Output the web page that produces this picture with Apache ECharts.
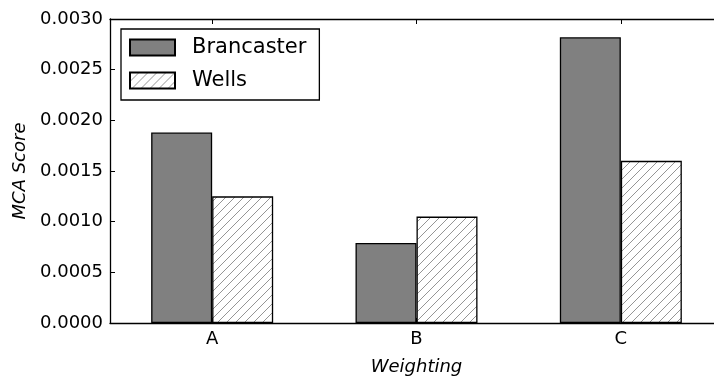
<!DOCTYPE html>
<html>
<head>
<meta charset="utf-8">
<script src="https://cdn.jsdelivr.net/npm/echarts@6/dist/echarts.min.js"></script>
<style>
  html, body { margin: 0; padding: 0; background: #fff; overflow: hidden; }
  #wrap { width: 714px; height: 381px; overflow: hidden; }
  /* The plot runs slightly past the right edge of the view, so the canvas is wider */
  #chart { width: 723px; height: 381px; }
</style>
</head>
<body>
<div id="wrap"><div id="chart"></div></div>
<script>
// Weighting schemes on the x axis
const categories = ['A', 'B', 'C'];
// MCA scores per site
const brancaster = [0.00188, 0.00079, 0.00282];
const wells = [0.00125, 0.00105, 0.00160];
// Y tick values
const yTicks = [0, 0.0005, 0.0010, 0.0015, 0.0020, 0.0025, 0.0030];

// Diagonal hatch tile for the Wells bars
function makeHatch() {
  const s = 9;
  const c = document.createElement('canvas');
  c.width = s; c.height = s;
  const g = c.getContext('2d');
  g.fillStyle = '#ffffff';
  g.fillRect(0, 0, s, s);
  g.strokeStyle = '#7a7a7a';
  g.lineWidth = 0.8;
  for (const off of [-s, 0, s]) {
    g.beginPath();
    g.moveTo(off - 1, s + 1);
    g.lineTo(off + s + 1, -1);
    g.stroke();
  }
  return c;
}
const hatch = { image: makeHatch(), repeat: 'repeat' };

const font = 'DejaVu Sans';
const chart = echarts.init(document.getElementById('chart'), null, { renderer: 'canvas' });

chart.setOption({
  animation: false,
  backgroundColor: '#ffffff',
  textStyle: { fontFamily: font },
  grid: { left: 110, right: 0, top: 19, bottom: 56, containLabel: false },
  legend: {
    orient: 'vertical',
    left: 121,
    top: 29,
    padding: [8, 13, 9, 8],
    itemGap: 12,
    itemWidth: 45,
    itemHeight: 16,
    backgroundColor: '#ffffff',
    borderColor: '#000',
    borderWidth: 1.3,
    borderRadius: 0,
    selectedMode: false,
    textStyle: { fontFamily: font, fontSize: 21, color: '#000', padding: [0, 0, 0, 12] },
    data: [
      { name: 'Brancaster', icon: 'rect' },
      { name: 'Wells', icon: 'rect' }
    ]
  },
  xAxis: [
    {
      type: 'category',
      data: categories,
      position: 'bottom',
      name: 'Weighting',
      nameLocation: 'middle',
      nameGap: 35,
      nameTextStyle: { fontFamily: font, fontSize: 18, fontStyle: 'italic', color: '#000' },
      axisLine: { lineStyle: { color: '#000', width: 1.3 } },
      axisTick: { show: true, inside: true, alignWithLabel: true, length: 5, lineStyle: { color: '#000' } },
      axisLabel: { fontFamily: font, fontSize: 18, color: '#000', margin: 7 },
      splitLine: { show: false }
    },
    {
      type: 'category',
      data: categories,
      position: 'top',
      axisLine: { lineStyle: { color: '#000', width: 1.3 } },
      axisTick: { show: true, inside: true, alignWithLabel: true, length: 5, lineStyle: { color: '#000' } },
      axisLabel: { show: false },
      splitLine: { show: false }
    }
  ],
  yAxis: {
    type: 'value',
    min: yTicks[0],
    max: yTicks[yTicks.length - 1],
    interval: 0.0005,
    name: 'MCA Score',
    nameLocation: 'middle',
    nameGap: 73,
    nameTextStyle: { fontFamily: font, fontSize: 18, fontStyle: 'italic', color: '#000' },
    axisLine: { show: true, lineStyle: { color: '#000', width: 1.3 } },
    axisTick: { show: true, inside: true, length: 5, lineStyle: { color: '#000' } },
    axisLabel: {
      fontFamily: font, fontSize: 18, color: '#000', margin: 7,
      formatter: v => v.toFixed(4)
    },
    splitLine: { show: false }
  },
  series: [
    {
      name: 'Brancaster',
      type: 'bar',
      data: brancaster,
      barWidth: 61,
      barGap: '0%',
      itemStyle: { color: '#808080', borderColor: '#000', borderWidth: 1.3 }
    },
    {
      name: 'Wells',
      type: 'bar',
      data: wells,
      barWidth: 61,
      barGap: '0%',
      itemStyle: { color: hatch, borderColor: '#000', borderWidth: 1.3 }
    }
  ]
});
</script>
</body>
</html>
